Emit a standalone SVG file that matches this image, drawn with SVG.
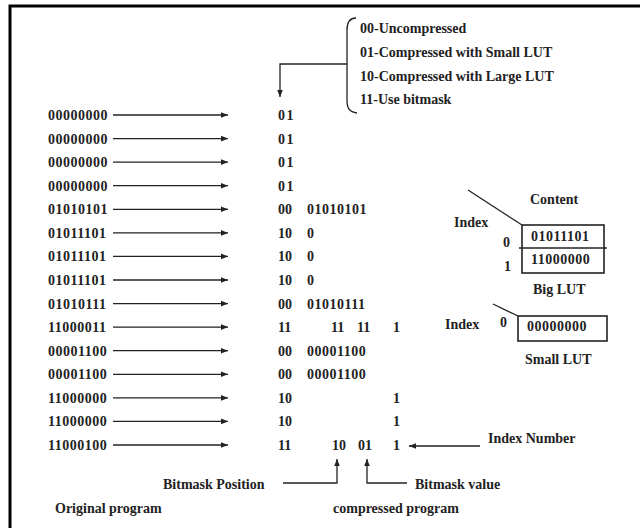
<svg xmlns="http://www.w3.org/2000/svg" width="640" height="528" viewBox="0 0 640 528">
<style>
text{font-family:'Liberation Serif',serif;font-weight:bold;font-size:14px;fill:#222}
.d{letter-spacing:0.5px}
.ln{stroke:#222;stroke-width:1.3;fill:none}
.bx{stroke:#222;stroke-width:1.6;fill:none}
</style>
<defs>
<marker id="ah" viewBox="0 0 10 10" refX="10" refY="5" markerWidth="7" markerHeight="7" markerUnits="userSpaceOnUse" orient="auto">
<path d="M0,1 L10,5 L0,9 Z" fill="#222"/>
</marker>
</defs>
<rect width="640" height="528" fill="#fff"/>
<path d="M10,528 V6 H640" stroke="#000" stroke-width="3" fill="none"/>

<g id="legend">
<path class="ln" d="M356,18 C349,18 347,23 347,30 V100 C347,108 349,112 357,113"/>
<text x="360" y="33">00-Uncompressed</text>
<text x="360" y="57">01-Compressed with Small LUT</text>
<text x="360" y="81">10-Compressed with Large LUT</text>
<text x="360" y="104">11-Use bitmask</text>
</g>

<g id="connectors">
<path class="ln" d="M347,64 H280 V97" marker-end="url(#ah)"/>
<g marker-end="url(#ah)">
<line class="ln" x1="113" y1="115" x2="228" y2="115"/>
<line class="ln" x1="113" y1="138.6" x2="228" y2="138.6"/>
<line class="ln" x1="113" y1="162.1" x2="228" y2="162.1"/>
<line class="ln" x1="113" y1="185.7" x2="228" y2="185.7"/>
<line class="ln" x1="113" y1="209.3" x2="228" y2="209.3"/>
<line class="ln" x1="113" y1="232.9" x2="228" y2="232.9"/>
<line class="ln" x1="113" y1="256.4" x2="228" y2="256.4"/>
<line class="ln" x1="113" y1="280" x2="228" y2="280"/>
<line class="ln" x1="113" y1="303.6" x2="228" y2="303.6"/>
<line class="ln" x1="113" y1="327.1" x2="228" y2="327.1"/>
<line class="ln" x1="113" y1="350.7" x2="228" y2="350.7"/>
<line class="ln" x1="113" y1="374.3" x2="228" y2="374.3"/>
<line class="ln" x1="113" y1="397.9" x2="228" y2="397.9"/>
<line class="ln" x1="113" y1="421.4" x2="228" y2="421.4"/>
<line class="ln" x1="113" y1="445" x2="228" y2="445"/>
<line class="ln" x1="480" y1="446" x2="409" y2="446"/>
<path class="ln" d="M283,483 H337 V459"/>
<path class="ln" d="M407,483 H367 V459"/>
</g>
<line class="ln" x1="468" y1="190" x2="522" y2="225"/>
<line class="ln" x1="493" y1="304" x2="518" y2="316"/>
</g>

<g id="original">
<text class="d" x="48" y="120">00000000</text>
<text class="d" x="48" y="143.6">00000000</text>
<text class="d" x="48" y="167">00000000</text>
<text class="d" x="48" y="190.7">00000000</text>
<text class="d" x="48" y="214.3">01010101</text>
<text class="d" x="48" y="237.9">01011101</text>
<text class="d" x="48" y="261.4">01011101</text>
<text class="d" x="48" y="285">01011101</text>
<text class="d" x="48" y="308.6">01010111</text>
<text class="d" x="48" y="332.1">11000011</text>
<text class="d" x="48" y="355.7">00001100</text>
<text class="d" x="48" y="379.3">00001100</text>
<text class="d" x="48" y="402.9">11000000</text>
<text class="d" x="48" y="426.4">11000000</text>
<text class="d" x="48" y="450">11000100</text>
</g>

<g id="compressed">
<text x="278" y="120" letter-spacing="1.5">01</text>
<text x="278" y="143.6" letter-spacing="1.5">01</text>
<text x="278" y="167" letter-spacing="1.5">01</text>
<text x="278" y="190.7" letter-spacing="1.5">01</text>
<text x="278" y="214.3">00</text><text class="d" x="307" y="214.3">01010101</text>
<text x="278" y="237.9">10</text><text x="307" y="237.9">0</text>
<text x="278" y="261.4">10</text><text x="307" y="261.4">0</text>
<text x="278" y="285">10</text><text x="307" y="285">0</text>
<text x="278" y="308.6">00</text><text class="d" x="307" y="308.6">01010111</text>
<text x="278" y="332.1">11</text><text x="331" y="332.1">11</text><text x="357" y="332.1">11</text><text x="393" y="332.1">1</text>
<text x="278" y="355.7">00</text><text class="d" x="307" y="355.7">00001100</text>
<text x="278" y="379.3">00</text><text class="d" x="307" y="379.3">00001100</text>
<text x="278" y="402.9">10</text><text x="393" y="402.9">1</text>
<text x="278" y="426.4">10</text><text x="393" y="426.4">1</text>
<text x="278" y="450">11</text><text x="332" y="450">10</text><text x="358" y="450">01</text><text x="393" y="450">1</text>
</g>

<g id="biglut">
<rect class="bx" x="522" y="225" width="82" height="48"/>
<line class="bx" x1="519" y1="248" x2="607" y2="248"/>
<text x="530" y="204">Content</text>
<text x="454" y="227">Index</text>
<text x="503" y="247">0</text>
<text x="504" y="271">1</text>
<text class="d" x="531" y="241">01011101</text>
<text class="d" x="531" y="264">11000000</text>
<text x="533" y="294">Big LUT</text>
</g>

<g id="smalllut">
<rect class="bx" x="518" y="316" width="89" height="25"/>
<text x="445" y="329">Index</text>
<text x="500" y="327">0</text>
<text class="d" x="527" y="331">00000000</text>
<text x="525" y="364">Small LUT</text>
</g>

<g id="labels">
<text x="488" y="443">Index Number</text>
<text x="163" y="489">Bitmask Position</text>
<text x="415" y="489">Bitmask value</text>
<text x="55" y="513">Original program</text>
<text x="333" y="513">compressed program</text>
</g>
</svg>
